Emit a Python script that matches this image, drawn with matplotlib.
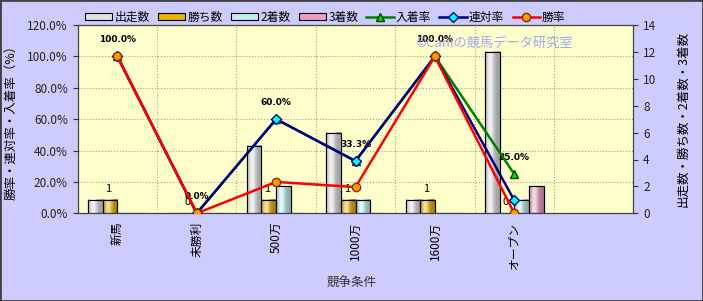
import numpy as np
import matplotlib
matplotlib.use('Agg')
import matplotlib.pyplot as plt
from matplotlib.colors import to_rgb
from matplotlib.patches import Rectangle

plt.rcParams['font.family'] = ['Noto Sans CJK JP', 'DejaVu Sans']

categories = ['新馬', '未勝利', '500万', '1000万', '1600万', 'オープン', '']
starts = [1, 0, 5, 6, 1, 12]
wins = [1, 0, 1, 1, 1, 0]
seconds = [0, 0, 2, 1, 0, 1]
thirds = [0, 0, 0, 0, 0, 2]

win_rate = [100.0, 0.0, 20.0, 16.7, 100.0, 0.0]
rentai_rate = [100.0, 0.0, 60.0, 33.3, 100.0, 8.3]
place_rate = [100.0, 0.0, 60.0, 33.3, 100.0, 25.0]

pct_ticks = np.arange(0, 121, 20)
cnt_ticks = np.arange(0, 15, 2)


def cylinder(color, n=48):
    # shaded horizontal gradient so the bars look like the excel cylinders
    c = np.array(to_rgb(color))
    t = np.linspace(0, 1, n)
    light = np.exp(-((t - 0.35) / 0.28) ** 2)
    shade = 0.72 + 0.28 * light
    col = c * shade[:, None] + (1 - c) * (0.6 * light)[:, None]
    return np.clip(col, 0, 1)[None, :, :]


fig = plt.figure(figsize=(7.03, 3.01), dpi=100, facecolor='#CCCCFF')
ax = fig.add_axes([77.7 / 703, 1 - 213.3 / 301, 555.6 / 703, 188.3 / 301])
ax.set_facecolor('#FFFFCC')
ax2 = ax.twinx()

# bars on the count axis (shown on the right)
x = np.arange(len(starts))
w = 0.185
series = [(starts, '#E0E0E0', '出走数'), (wins, '#E8B400', '勝ち数'),
          (seconds, '#BDEFEF', '2着数'), (thirds, '#F09CC8', '3着数')]
for k, (vals, col, lab) in enumerate(series):
    bars = ax.bar(x + (k - 1.5) * w, vals, w, color=col, edgecolor='black',
                  linewidth=0.8, zorder=3, label=lab)
    for b in bars:
        if b.get_height() <= 0:
            continue
        ax.imshow(cylinder(col), extent=[b.get_x(), b.get_x() + b.get_width(), 0, b.get_height()],
                  aspect='auto', interpolation='bilinear', zorder=3.1)
        ax.add_patch(Rectangle((b.get_x(), 0), b.get_width(), b.get_height(), fill=False,
                               edgecolor='black', linewidth=0.8, zorder=3.2))

for i, v in enumerate(wins):
    ax.text(x[i] - 0.6 * w, v + 0.45, str(v), ha='center', va='bottom', fontsize=8, zorder=5)

ax.set_ylim(0, 14)
ax.set_yticks(cnt_ticks)
ax.set_xlim(-0.5, len(categories) - 0.5)
ax.set_xticks(np.arange(len(categories)))
ax.set_xticklabels(categories, rotation=90, fontsize=8.5)

# grid behind the bars
for p in pct_ticks[1:-1]:
    ax.axhline(p / pct_ticks[-1] * 14, color='#A0A0A0', linestyle=':', linewidth=0.8, zorder=1)
for b in np.arange(len(categories) - 1) + 0.5:
    ax.axvline(b, color='#A0A0A0', linestyle=':', linewidth=0.8, zorder=1)

# rate lines
ax2.plot(x, place_rate, color='#008000', linewidth=1.8, marker='^', markersize=6,
         markerfacecolor='#00E000', markeredgecolor='#004000', label='入着率', zorder=4)
ax2.plot(x, rentai_rate, color='#000080', linewidth=1.8, marker='D', markersize=5,
         markerfacecolor='#00FFFF', markeredgecolor='#000080', label='連対率', zorder=5)
ax2.plot(x, win_rate, color='#FF0000', linewidth=1.8, marker='o', markersize=6,
         markerfacecolor='#FF9900', markeredgecolor='#803000', label='勝率', zorder=6)

for i, v in enumerate(place_rate):
    ax2.annotate('%.1f%%' % v, (x[i], v), xytext=(0, 12), textcoords='offset points',
                 ha='center', va='center', fontsize=6.5, fontweight='bold', family='DejaVu Sans')

ax2.set_ylim(0, 120)
ax2.set_yticks(pct_ticks)
ax2.set_yticklabels(['%.1f%%' % t for t in pct_ticks], fontsize=8.5)

# swap sides: percentages on the left, counts on the right
ax.yaxis.tick_right()
ax.yaxis.set_label_position('right')
ax2.yaxis.tick_left()
ax2.yaxis.set_label_position('left')
ax.tick_params(axis='y', labelsize=8.5, colors='#333333', labelcolor='#222222')
ax2.tick_params(axis='y', colors='#333333', labelcolor='#222222')
ax.tick_params(axis='x', length=0, pad=6)

ax2.set_ylabel('勝率・連対率・入着率（%）', fontsize=9)
ax2.yaxis.set_label_coords(-0.109, 0.5)
ax.set_ylabel('出走数・勝ち数・2着数・3着数', fontsize=9, rotation=90)
ax.yaxis.set_label_coords(1.078, 0.5)
ax.set_xlabel('競争条件', fontsize=9, color='#333333')
ax.xaxis.set_label_coords(0.493, -0.34)

for sp in list(ax.spines.values()) + list(ax2.spines.values()):
    sp.set_color('#404040')

fig.text(415 / 703, 1 - 43 / 301, '©Caniの競馬データ研究室', color='#A0A8F4', fontsize=9.5,
         ha='left', va='center', zorder=10)

h1, l1 = ax.get_legend_handles_labels()
h2, l2 = ax2.get_legend_handles_labels()
fig.legend(h1 + h2, l1 + l2, loc='center left', bbox_to_anchor=(80 / 703, 1 - 17 / 301),
           ncol=7, frameon=False, fontsize=8.5, handlelength=2.3, handleheight=0.5,
           handletextpad=0.2, columnspacing=0.7, borderaxespad=0)

fig.patches.append(Rectangle((0, 0), 1, 1, transform=fig.transFigure, fill=False,
                             edgecolor='#404040', linewidth=2))

fig.savefig('out.png', dpi=100, facecolor=fig.get_facecolor())
